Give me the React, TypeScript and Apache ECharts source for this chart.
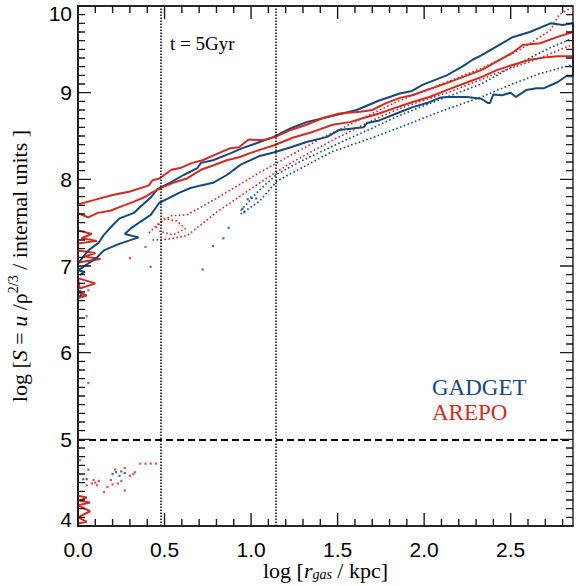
import React, { useEffect, useRef } from "react";
import * as echarts from "echarts";

const BLUE = "#15497a";
const RED = "#d42a1f";

const X_MIN = 0;
const X_MAX = 2.86;
const Y_MIN = 4;
const Y_MAX = 10;
const vLinesX = [0.48, 1.14];
const thresholdY = 5;

const xMajorTicks = [0, 0.5, 1.0, 1.5, 2.0, 2.5];
const xMinorTicks = [0.1, 0.2, 0.3, 0.4, 0.6, 0.7, 0.8, 0.9, 1.1, 1.2, 1.3, 1.4, 1.6, 1.7, 1.8, 1.9, 2.1, 2.2, 2.3, 2.4, 2.6, 2.7, 2.8];
const yMajorTicks = [4, 5, 6, 7, 8, 9, 10];
const yMinorTicks = [
  4.1, 4.2, 4.3, 4.4, 4.5, 4.6, 4.7, 4.8, 4.9, 5.1, 5.2, 5.3, 5.4, 5.5, 5.6, 5.7, 5.8, 5.9,
  6.1, 6.2, 6.3, 6.4, 6.5, 6.6, 6.7, 6.8, 6.9, 7.1, 7.2, 7.3, 7.4, 7.5, 7.6, 7.7, 7.8, 7.9,
  8.1, 8.2, 8.3, 8.4, 8.5, 8.6, 8.7, 8.8, 8.9, 9.1, 9.2, 9.3, 9.4, 9.5, 9.6, 9.7, 9.8, 9.9,
];

// Red (AREPO) contour: upper edge left->right, lower edge right->left
const redContourUpper = [
  [0, 7.71], [0.09, 7.76], [0.2, 7.82], [0.3, 7.86], [0.41, 7.93], [0.43, 7.99], [0.47, 8.01],
  [0.54, 8.11], [0.59, 8.13], [0.66, 8.19], [0.72, 8.22], [0.81, 8.3], [0.88, 8.36], [0.93, 8.37],
  [0.98, 8.45], [0.99, 8.46], [1.07, 8.45], [1.14, 8.49], [1.23, 8.57], [1.32, 8.63], [1.42, 8.71],
  [1.51, 8.76], [1.63, 8.78], [1.7, 8.8], [1.78, 8.88], [1.86, 8.94], [1.93, 8.97], [2.13, 9.11],
  [2.33, 9.26], [2.51, 9.46], [2.57, 9.55], [2.67, 9.57], [2.78, 9.65], [2.86, 9.7],
];
const redContourLower = [
  [2.86, 9.42], [2.77, 9.42], [2.71, 9.41], [2.61, 9.38], [2.51, 9.32], [2.42, 9.26], [2.33, 9.18],
  [2.25, 9.12], [2.13, 9.03], [2.03, 8.95], [1.93, 8.89], [1.84, 8.83], [1.74, 8.76], [1.67, 8.72],
  [1.57, 8.66], [1.47, 8.63], [1.36, 8.55], [1.24, 8.48], [1.13, 8.39], [1.05, 8.34], [0.99, 8.3],
  [0.94, 8.26], [0.86, 8.22], [0.78, 8.16], [0.71, 8.11], [0.63, 8.01], [0.55, 7.96], [0.49, 7.91],
  [0.43, 7.85], [0.38, 7.79], [0.32, 7.74], [0.24, 7.68], [0.19, 7.64], [0.11, 7.61], [0.06, 7.56],
  [0, 7.61],
];

// Blue (GADGET) contour
const blueContourUpper = [
  [0, 7.03], [0.06, 7.18], [0.12, 7.27], [0.15, 7.36], [0.2, 7.47], [0.24, 7.55], [0.32, 7.61],
  [0.37, 7.7], [0.42, 7.79], [0.46, 7.89], [0.53, 7.96], [0.61, 8.05], [0.69, 8.13], [0.71, 8.19],
  [0.78, 8.22], [0.88, 8.3], [0.95, 8.36], [1.05, 8.43], [1.13, 8.49], [1.23, 8.59], [1.32, 8.66],
  [1.51, 8.75], [1.61, 8.8], [1.74, 8.91], [1.86, 8.99], [1.93, 9.02], [1.99, 9.09], [2.13, 9.2],
  [2.22, 9.3], [2.28, 9.38], [2.33, 9.43], [2.45, 9.57], [2.51, 9.64], [2.61, 9.7], [2.73, 9.8],
  [2.8, 9.78], [2.86, 9.8],
];
const blueContourLower = [
  [2.86, 9.19], [2.82, 9.19], [2.77, 9.12], [2.69, 9.05], [2.65, 9.05], [2.59, 9.03], [2.53, 8.95],
  [2.5, 9.0], [2.45, 8.97], [2.4, 8.98], [2.38, 8.88], [2.37, 8.88], [2.33, 8.93], [2.25, 8.95],
  [2.13, 8.95], [2.09, 8.94], [2.03, 8.89], [1.93, 8.83], [1.84, 8.76], [1.74, 8.68], [1.67, 8.65],
  [1.65, 8.6], [1.51, 8.57], [1.44, 8.49], [1.32, 8.43], [1.23, 8.37], [1.13, 8.31], [1.05, 8.27],
  [0.94, 8.17], [0.86, 8.05], [0.78, 7.96], [0.71, 7.93], [0.65, 7.9], [0.59, 7.85], [0.53, 7.79],
  [0.47, 7.73], [0.42, 7.59], [0.36, 7.51], [0.31, 7.44], [0.27, 7.37], [0.35, 7.33], [0.23, 7.25],
  [0.15, 7.18], [0.11, 7.1], [0.06, 7.03], [0, 6.95],
];

// small contour fragments at the inner edge
const redEdgeShapes = [
  [[0, 7.41], [0.08, 7.37], [0.02, 7.32], [0.11, 7.29], [0, 7.26]],
  [[0, 7.18], [0.1, 7.15], [0.04, 7.11], [0.13, 7.08], [0, 7.04], [0, 7.18]],
  [[0, 6.86], [0.1, 6.8], [0.01, 6.74], [0, 6.86]],
  [[0, 6.7], [0.05, 6.66], [0, 6.63]],
  [[0, 4.35], [0.05, 4.33], [0.01, 4.29], [0.07, 4.27], [0, 4.24], [0.07, 4.17], [0, 4.1], [0.05, 4.05], [0, 4.03]],
];
const blueEdgeShapes = [
  [[0, 7.0], [0, 6.64], [0.02, 6.66], [0.01, 6.72]],
  [[0, 6.95], [0.04, 6.93], [0.01, 6.9]],
];

// dotted profiles
const redDottedUpper = [
  [0.41, 7.38], [0.47, 7.5], [0.54, 7.58], [0.63, 7.59], [0.8, 7.78], [1.05, 8.08], [1.15, 8.19],
  [1.42, 8.49], [1.7, 8.76], [1.86, 8.91], [2.09, 9.09], [2.33, 9.28], [2.55, 9.49], [2.73, 9.72],
  [2.78, 9.9], [2.85, 9.98],
];
const redDottedLower = [
  [0.43, 7.3], [0.52, 7.31], [0.63, 7.35], [0.8, 7.62], [1.05, 7.96], [1.23, 8.19], [1.47, 8.45],
  [1.7, 8.68], [1.86, 8.82], [2.15, 9.01], [2.44, 9.24], [2.67, 9.4], [2.85, 9.55],
];
const redDottedLoop = [
  [0.45, 7.44], [0.5, 7.55], [0.57, 7.52], [0.62, 7.43], [0.55, 7.36], [0.47, 7.4],
];
const blueDottedUpper = [
  [0.94, 7.64], [1.05, 7.88], [1.15, 8.06], [1.28, 8.2], [1.51, 8.42], [1.7, 8.59], [1.86, 8.74],
  [2.09, 8.92], [2.33, 9.1], [2.51, 9.3], [2.61, 9.4], [2.73, 9.52], [2.85, 9.62],
];
const blueDottedLower = [
  [0.94, 7.6], [1.05, 7.75], [1.15, 7.98], [1.28, 8.12], [1.47, 8.32], [1.7, 8.48], [1.86, 8.6],
  [2.09, 8.78], [2.33, 8.95], [2.51, 9.1], [2.67, 9.22], [2.85, 9.32],
];

// scattered particles
const redScatter = [
  [0.013, 4.76], [0.06, 4.65], [0.215, 4.65], [0.27, 4.67], [0.36, 4.72], [0.39, 4.72], [0.42, 4.72],
  [0.45, 4.72], [0.3, 4.58], [0.19, 4.53], [0.23, 4.49], [0.17, 4.45], [0.15, 4.39], [0.05, 4.47],
  [0.09, 4.53], [0.11, 4.47], [0.27, 4.41], [0.08, 4.49], [0.12, 4.52], [0.2, 4.48], [0.25, 4.52],
  [0.32, 4.6], [0.33, 4.62], [0.1, 4.5], [0.06, 5.65], [0.3, 7.09], [0.42, 6.99], [0.39, 7.22],
  [0.06, 6.72], [0.05, 6.42],
];
const blueScatter = [
  [0.0, 4.53], [0.03, 4.54], [0.05, 4.54], [0.2, 4.6], [0.22, 4.62], [0.25, 4.63], [0.27, 4.61],
  [0.24, 4.58], [0.87, 7.44], [0.84, 7.32], [0.78, 7.23], [0.72, 6.96], [0.98, 7.77], [1.0, 7.79],
  [1.03, 7.78], [0.95, 7.66], [0.96, 7.62],
];

const SERIF = "Liberation Serif";
const SANS = "Liberation Sans";
const AXIS_COLOR = "#1a1a1a";
const CHART_W = 576;
const CHART_H = 586;
const GRID = { left: 78, right: 3, top: 6, bottom: 60 };
const MAJOR_LEN = 13;
const MINOR_LEN = 7;

function line(data: number[][], color: string, dotted = false, width = 2): any {
  return {
    type: "line",
    data,
    symbol: "none",
    showSymbol: false,
    silent: true,
    animation: false,
    xAxisIndex: 0,
    yAxisIndex: 0,
    lineStyle: { color, width: dotted ? 1.6 : width, type: dotted ? [1.6, 2.4] : "solid" },
    z: dotted ? 2 : 3,
  };
}

function scatter(data: number[][], color: string): any {
  return {
    type: "scatter",
    data,
    symbol: "rect",
    symbolSize: 2.2,
    silent: true,
    itemStyle: { color },
    xAxisIndex: 0,
    yAxisIndex: 0,
  };
}

// inward tick marks drawn as one "comb" polyline per frame side, in data units
function tickCombs(): any[] {
  const xPerPx = (X_MAX - X_MIN) / (CHART_W - GRID.left - GRID.right);
  const yPerPx = (Y_MAX - Y_MIN) / (CHART_H - GRID.top - GRID.bottom);
  const xs = [...xMajorTicks.map((v) => [v, MAJOR_LEN]), ...xMinorTicks.map((v) => [v, MINOR_LEN])].sort((a, b) => a[0] - b[0]);
  const ys = [...yMajorTicks.map((v) => [v, MAJOR_LEN]), ...yMinorTicks.map((v) => [v, MINOR_LEN])].sort((a, b) => a[0] - b[0]);
  const bottom: number[][] = [];
  const top: number[][] = [];
  const left: number[][] = [];
  const right: number[][] = [];
  xs.forEach(([v, len]) => {
    const d = len * yPerPx;
    bottom.push([v, Y_MIN], [v, Y_MIN + d], [v, Y_MIN]);
    top.push([v, Y_MAX], [v, Y_MAX - d], [v, Y_MAX]);
  });
  ys.forEach(([v, len]) => {
    const d = len * xPerPx;
    left.push([X_MIN, v], [X_MIN + d, v], [X_MIN, v]);
    right.push([X_MAX, v], [X_MAX - d, v], [X_MAX, v]);
  });
  return [bottom, top, left, right].map((data) => ({
    type: "line",
    data,
    symbol: "none",
    showSymbol: false,
    silent: true,
    clip: false,
    xAxisIndex: 0,
    yAxisIndex: 0,
    z: 6,
    lineStyle: { color: AXIS_COLOR, width: 1.4, type: "solid", join: "miter" },
  }));
}

export default function App() {
  const ref = useRef<HTMLDivElement>(null);
  useEffect(() => {
    if (!ref.current) return;
    const chart = echarts.init(ref.current, null, { renderer: "svg" });
    const axisLine = { show: true, lineStyle: { color: AXIS_COLOR, width: 1.5 } };
    const yLabelStyle = { fontSize: 21, fontFamily: SANS, color: "#000" };

    const series: any[] = [];
    const redClosed = [...redContourUpper, ...redContourLower, redContourUpper[0]];
    const blueClosed = [...blueContourUpper, ...blueContourLower, blueContourUpper[0]];
    series.push(line(redDottedUpper, RED, true));
    series.push(line(redDottedLower, RED, true));
    series.push(line(redDottedLoop, RED, true));
    series.push(line(blueDottedUpper, BLUE, true));
    series.push(line(blueDottedLower, BLUE, true));
    series.push(scatter(redScatter, RED));
    series.push(scatter(blueScatter, BLUE));
    blueEdgeShapes.forEach((s) => series.push(line(s, BLUE)));
    redEdgeShapes.forEach((s) => series.push(line(s, RED)));
    series.push(line(blueClosed, BLUE));
    const redSeries = line(redClosed, RED);
    redSeries.markLine = {
      symbol: "none",
      silent: true,
      animation: false,
      label: { show: false },
      data: [
        ...vLinesX.map((x) => ({ xAxis: x, lineStyle: { color: "#000", width: 1.5, type: [1.5, 1.5] } })),
        { yAxis: thresholdY, lineStyle: { color: "#000", width: 2, type: [7, 4] } },
      ],
    };
    series.push(redSeries);
    series.push(...tickCombs());

    chart.setOption({
      animation: false,
      backgroundColor: "#fff",
      grid: { ...GRID, containLabel: false, outerBoundsMode: "none" },
      xAxis: [
        {
          type: "value",
          min: X_MIN,
          max: X_MAX,
          interval: 0.5,
          position: "bottom",
          splitLine: { show: false },
          axisLine,
          axisTick: { show: false },
          axisLabel: {
            fontSize: 21,
            lineHeight: 22,
            fontFamily: SANS,
            color: "#000",
            margin: 12,
            formatter: (v: number) => (Math.abs(v * 2 - Math.round(v * 2)) < 1e-6 ? v.toFixed(1) : ""),
          },
          name: "log [{i|r}{s|gas} / kpc]",
          nameLocation: "middle",
          nameGap: 33,
          nameMoveOverlap: false,
          nameTextStyle: {
            fontFamily: SERIF,
            fontSize: 22,
            color: "#000",
            lineHeight: 22,
            rich: {
              i: { fontFamily: SERIF, fontSize: 22, fontStyle: "italic", color: "#000", lineHeight: 22 },
              s: { fontFamily: SERIF, fontSize: 14, fontStyle: "italic", color: "#000", verticalAlign: "bottom" },
            },
          },
        },
        {
          type: "value",
          min: X_MIN,
          max: X_MAX,
          interval: 0.5,
          position: "top",
          splitLine: { show: false },
          axisLine,
          axisTick: { show: false },
          axisLabel: { show: false },
        },
      ],
      yAxis: [
        {
          type: "value",
          min: Y_MIN,
          max: Y_MAX,
          interval: 1,
          position: "left",
          splitLine: { show: false },
          axisLine,
          axisTick: { show: false },
          axisLabel: {
            margin: 6,
            formatter: (v: number) => (v === 10 ? "{t|10}" : v === 4 ? "{b|4}" : "{n|" + v + "}"),
            rich: {
              n: yLabelStyle,
              t: { ...yLabelStyle, padding: [14, 0, 0, 0] },
              b: { ...yLabelStyle, padding: [0, 0, 14, 0] },
            },
          },
          name: "log [{i|S} = {i|u} /ρ{p|2/3} / internal units ]",
          nameLocation: "middle",
          nameGap: 46,
          nameMoveOverlap: false,
          nameTextStyle: {
            fontFamily: SERIF,
            fontSize: 22,
            color: "#000",
            lineHeight: 26,
            rich: {
              i: { fontFamily: SERIF, fontSize: 22, fontStyle: "italic", color: "#000", lineHeight: 26 },
              p: { fontFamily: SERIF, fontSize: 14, color: "#000", verticalAlign: "top" },
            },
          },
        },
        {
          type: "value",
          min: Y_MIN,
          max: Y_MAX,
          interval: 1,
          position: "right",
          splitLine: { show: false },
          axisLine,
          axisTick: { show: false },
          axisLabel: { show: false },
        },
      ],
      graphic: [
        { type: "text", left: 170, top: 34, silent: true, style: { text: "t = 5Gyr", fill: "#000", fontSize: 19, fontFamily: SERIF } },
        { type: "text", left: 432, top: 376, silent: true, style: { text: "GADGET", fill: BLUE, fontSize: 23, fontFamily: SERIF } },
        { type: "text", left: 432, top: 401, silent: true, style: { text: "AREPO", fill: RED, fontSize: 23, fontFamily: SERIF } },
      ],
      series,
    });
    return () => chart.dispose();
  }, []);
  return (
    <div
      ref={ref}
      style={{ position: "fixed", left: 0, top: 0, width: CHART_W, height: CHART_H, background: "#fff" }}
    />
  );
}
